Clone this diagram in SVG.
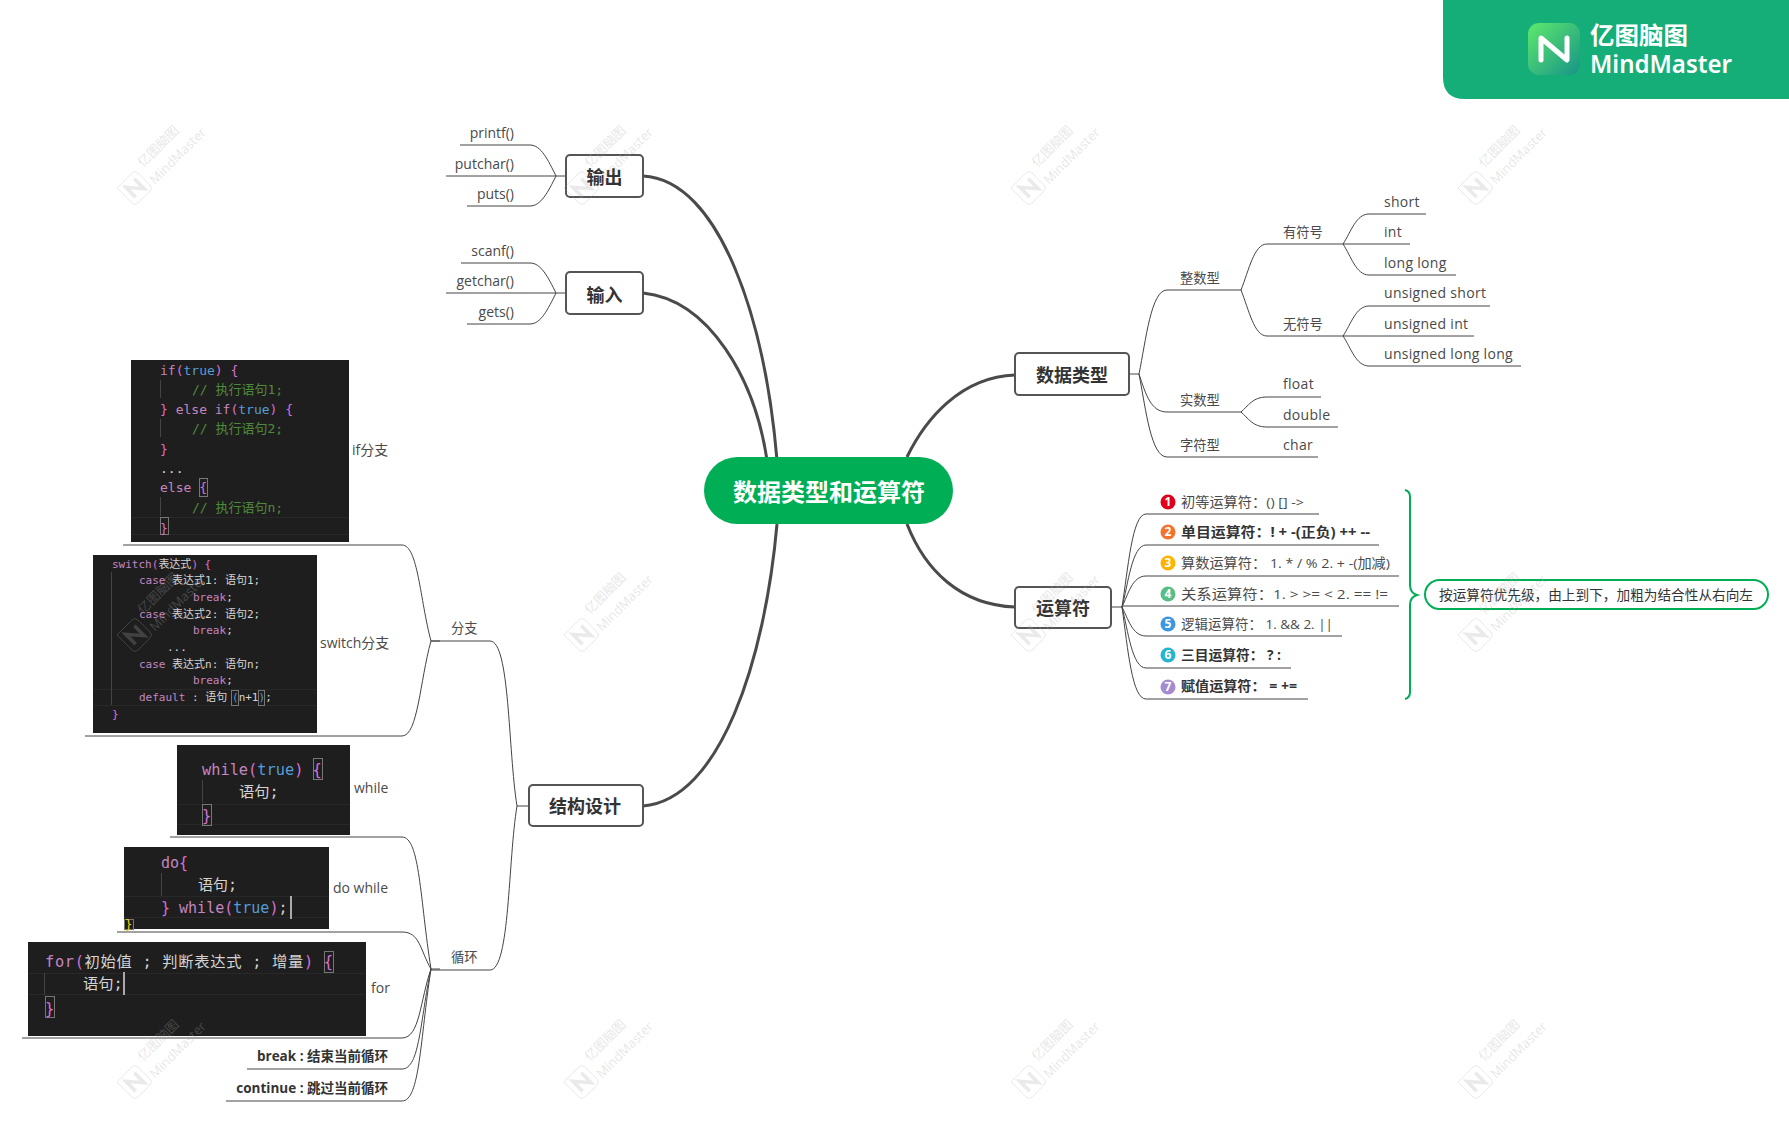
<svg xmlns="http://www.w3.org/2000/svg" width="1789" height="1121" viewBox="0 0 1789 1121">
<style>
text{font-family:"Open Sans","Noto Sans CJK SC",sans-serif;fill:#4a4a4a;font-size:14px}
.end{text-anchor:end}
.mid{text-anchor:middle}
.b{font-weight:700;fill:#333}
.zh{font-size:13.3px}
.ls{letter-spacing:.3px}
.node rect{fill:#fff;stroke:#555;stroke-width:2}
.node text{font-size:18px;font-weight:700;fill:#333;text-anchor:middle;font-family:"Noto Sans CJK SC",sans-serif}
.main path{fill:none;stroke:#4a4a4a;stroke-width:3}
.sub path{fill:none;stroke:#444;stroke-width:1}
.code rect.bg{fill:#1e1e1e}
.code rect.ln{fill:#282828}
.code rect.g{fill:#444}
.code rect.bx{fill:none;stroke:#777;stroke-width:1}
.code text{font-family:"DejaVu Sans Mono","Noto Sans CJK SC",monospace;fill:#d4d4d4;white-space:pre}
.k{fill:#c586c0}.t{fill:#569cd6}.p{fill:#da70d6}.c{fill:#4f8a3c}
.num{fill:#fff;font-size:12px;font-weight:700;text-anchor:middle}
.wm text{fill:#aaa;font-size:13px;fill-opacity:.3}
.wmi path{fill:none;stroke:#aaa;stroke-opacity:.25}
</style>
<defs>
<linearGradient id="lg" x1="0" y1="0" x2="1" y2="1"><stop offset="0" stop-color="#5ee86c"/><stop offset="1" stop-color="#179488"/></linearGradient>
<g id="wmicon" class="wmi">
<path stroke-width="1" d="M-18 0L-3 -15Q0 -18 3 -15L15 -3Q18 0 15 3L3 15Q0 18 -3 15L-15 3Q-18 0 -18 0Z"/>
<path stroke-width="3.500" transform="rotate(-45)" d="M-6 7V-7L6 7V-7"/>
</g>
</defs>

<g id="banner">
<path d="M1443 0H1789V99H1465Q1443 99 1443 77Z" fill="#16ae78"/>
<rect x="1528" y="23" width="52" height="52" rx="11" fill="url(#lg)"/>
<path d="M1541 60V38L1567 60V38" fill="none" stroke="#fff" stroke-width="5" stroke-linejoin="round" stroke-linecap="round"/>
<text x="1590" y="44" textLength="98" lengthAdjust="spacingAndGlyphs" style="fill:#fff;font-size:24px;font-weight:700;font-family:'Noto Sans CJK SC',sans-serif">亿图脑图</text>
<text x="1590" y="73" textLength="142" lengthAdjust="spacingAndGlyphs" style="fill:#fff;font-size:25px;font-weight:600;font-family:'Noto Sans',sans-serif">MindMaster</text>
</g>

<g id="connectors">
<g class="main">
<path d="M643 176C720 180 765 320 777 460"/>
<path d="M643 293C710 300 755 380 767 460"/>
<path d="M643 806C720 800 765 660 777 524"/>
<path d="M1015 375C960 377 925 420 907 457"/>
<path d="M1015 607C960 605 925 570 907 524"/>
</g>
<g class="sub">
<path d="M566 176H556"/><path d="M556 176C548 160 541 145 530 145H460"/><path d="M556 176H446"/><path d="M556 176C548 192 541 206 530 206H467"/>
<path d="M566 293H556"/><path d="M556 293C548 277 541 263 530 263H461"/><path d="M556 293H446"/><path d="M556 293C548 309 541 324 530 324H467"/>
<path d="M1129 374H1139"/>
<path d="M1139 374C1146 340 1151 290 1167 290H1241"/>
<path d="M1139 374C1146 395 1151 412 1167 412H1241"/>
<path d="M1139 374C1146 410 1151 457 1167 457H1318"/>
<path d="M1241 290C1249 270 1254 244 1267 244H1343"/>
<path d="M1241 290C1249 310 1254 336 1267 336H1343"/>
<path d="M1343 244C1351 232 1356 214 1369 214H1426"/><path d="M1343 244H1410"/><path d="M1343 244C1351 256 1356 275 1369 275H1456"/>
<path d="M1343 336C1351 324 1356 306 1369 306H1490"/><path d="M1343 336H1474"/><path d="M1343 336C1351 348 1356 366 1369 366H1521"/>
<path d="M1241 412C1248 406 1253 397 1266 397H1321"/><path d="M1241 412C1248 418 1253 427 1266 427H1338"/>
<path d="M1111 607H1122"/>
<path d="M1122 607C1128 570 1132 514 1146 514H1319"/>
<path d="M1122 607C1128 585 1132 545 1146 545H1379"/>
<path d="M1122 607C1128 595 1132 576 1146 576H1399"/>
<path d="M1122 606H1399"/>
<path d="M1122 607C1128 618 1132 636 1146 636H1342"/>
<path d="M1122 607C1128 630 1132 668 1146 668H1291"/>
<path d="M1122 607C1128 650 1132 699 1146 699H1308"/>
<path d="M529 806H517"/>
<path d="M517 806C508 750 510 641 490 641H431"/>
<path d="M517 806C508 860 510 970 490 970H431"/>
<path d="M440 641H431"/><path d="M440 969H431"/>
<path d="M431 641C420 600 418 545 402 545H123"/>
<path d="M431 641C420 680 418 736 402 736H85"/>
<path d="M431 969C420 900 420 837 402 837H170"/>
<path d="M431 969C420 950 420 932 402 932H117"/>
<path d="M431 969C420 1000 420 1038 402 1038H22"/>
<path d="M431 969C420 1020 420 1069 402 1069H247"/>
<path d="M431 969C420 1040 420 1101 402 1101H226"/>
</g>
<path d="M1405 490Q1410 491 1410 497V585Q1410 593 1417 595Q1410 597 1410 605V692Q1410 698 1405 699" fill="none" stroke="#00ae55" stroke-width="2"/>
</g>

<g id="root"><rect x="704" y="457" width="249" height="67" rx="33.5" fill="#00ae55"/><text x="829" y="501" class="mid" style="font-size:24px;font-weight:700;fill:#fff;font-family:'Noto Sans CJK SC',sans-serif">数据类型和运算符</text></g>
<g id="n-output" class="node"><rect x="566" y="155" width="77" height="42" rx="4"/><text x="604.5" y="184">输出</text></g>
<g id="n-input" class="node"><rect x="566" y="272" width="77" height="42" rx="4"/><text x="604.5" y="302">输入</text></g>
<g id="n-types" class="node"><rect x="1015" y="353" width="114" height="42" rx="4"/><text x="1072" y="382">数据类型</text></g>
<g id="n-ops" class="node"><rect x="1015" y="587" width="96" height="41" rx="4"/><text x="1063" y="615">运算符</text></g>
<g id="n-struct" class="node"><rect x="529" y="785" width="114" height="41" rx="4"/><text x="585" y="813">结构设计</text></g>

<g id="output-items">
<text x="514" y="138" class="end">printf()</text><text x="514" y="169" class="end">putchar()</text><text x="514" y="199" class="end">puts()</text>
</g>
<g id="input-items">
<text x="514" y="256" class="end">scanf()</text><text x="514" y="286" class="end">getchar()</text><text x="514" y="317" class="end">gets()</text>
</g>
<g id="type-items">
<text x="1180" y="283" class="zh">整数型</text><text x="1180" y="405" class="zh">实数型</text><text x="1180" y="450" class="zh">字符型</text>
<text x="1283" y="237" class="zh">有符号</text><text x="1283" y="329" class="zh">无符号</text>
<text x="1384" y="207" class="ls">short</text><text x="1384" y="237" class="ls">int</text><text x="1384" y="268" class="ls">long long</text>
<text x="1384" y="298" class="ls">unsigned short</text><text x="1384" y="329" class="ls">unsigned int</text><text x="1384" y="359" class="ls">unsigned long long</text>
<text x="1283" y="389" class="ls">float</text><text x="1283" y="420" class="ls">double</text><text x="1283" y="450" class="ls">char</text>
</g>
<g id="op-items">
<circle cx="1168" cy="502" r="7.500" fill="#e0001b"/><text x="1168" y="506" class="num">1</text>
<text x="1181" y="507" textLength="123" lengthAdjust="spacingAndGlyphs" class="zh">初等运算符&#xFF1A;() [] -&gt;</text>
<circle cx="1168" cy="532" r="7.500" fill="#f4722b"/><text x="1168" y="536" class="num">2</text>
<text x="1181" y="537" textLength="189" lengthAdjust="spacingAndGlyphs" class="zh b">单目运算符&#xFF1A;! + -(正负) ++ --</text>
<circle cx="1168" cy="563" r="7.500" fill="#ffb300"/><text x="1168" y="567" class="num">3</text>
<text x="1181" y="568" textLength="209" lengthAdjust="spacingAndGlyphs" class="zh">算数运算符&#xFF1A; 1. * / % 2. + -(加减)</text>
<circle cx="1168" cy="594" r="7.500" fill="#56bd84"/><text x="1168" y="598" class="num">4</text>
<text x="1181" y="599" textLength="207" lengthAdjust="spacingAndGlyphs" class="zh">关系运算符&#xFF1A;1. &gt; &gt;= &lt; 2. == !=</text>
<circle cx="1168" cy="624" r="7.500" fill="#3b97e0"/><text x="1168" y="628" class="num">5</text>
<text x="1181" y="629" textLength="152" lengthAdjust="spacingAndGlyphs" class="zh">逻辑运算符&#xFF1A; 1. &amp;&amp; 2. ||</text>
<circle cx="1168" cy="655" r="7.500" fill="#26b5cf"/><text x="1168" y="659" class="num">6</text>
<text x="1181" y="660" textLength="100" lengthAdjust="spacingAndGlyphs" class="zh b">三目运算符&#xFF1A; ? :</text>
<circle cx="1168" cy="687" r="7.500" fill="#a78bd1"/><text x="1168" y="691" class="num">7</text>
<text x="1181" y="691" textLength="116" lengthAdjust="spacingAndGlyphs" class="zh b">赋值运算符&#xFF1A; = +=</text>
</g>
<g id="note"><rect x="1425" y="580" width="343" height="29" rx="14.5" fill="#fff" stroke="#00ae55" stroke-width="2"/>
<text x="1439" y="600" textLength="314" lengthAdjust="spacingAndGlyphs" class="zh" style="fill:#333">按运算符优先级&#xFF0C;由上到下&#xFF0C;加粗为结合性从右向左</text></g>

<g id="struct-items">
<text x="451" y="633" class="zh">分支</text><text x="451" y="962" class="zh">循环</text>
<text x="352" y="455">if分支</text><text x="320" y="648">switch分支</text>
<text x="354" y="793">while</text><text x="333" y="893">do while</text><text x="371" y="993">for</text>
<text x="388" y="1061" class="end b" style="font-size:13.5px">break : 结束当前循环</text>
<text x="388" y="1093" class="end b" style="font-size:13.5px">continue : 跳过当前循环</text>
</g>

<g id="code-if" class="code">
<rect class="bg" x="131" y="360" width="218" height="182"/>
<rect class="ln" x="131" y="517" width="218" height="1"/><rect class="ln" x="131" y="534" width="218" height="1"/>
<rect class="g" x="160" y="380" width="1" height="18"/><rect class="g" x="160" y="419" width="1" height="18"/><rect class="g" x="160" y="497" width="1" height="19"/>
<rect class="bx" x="199.500" y="478.500" width="8" height="18"/><rect class="bx" x="160.500" y="517.500" width="8" height="17"/>
<text x="160" y="375" style="font-size:13px"><tspan class="k">if</tspan><tspan class="p">(</tspan><tspan class="t">true</tspan><tspan class="p">) {</tspan></text>
<text x="192" y="394" style="font-size:13px;fill:#4f8a3c">// 执行语句1;</text>
<text x="160" y="414" style="font-size:13px"><tspan class="p">} </tspan><tspan class="k">else if</tspan><tspan class="p">(</tspan><tspan class="t">true</tspan><tspan class="p">) {</tspan></text>
<text x="192" y="433" style="font-size:13px;fill:#4f8a3c">// 执行语句2;</text>
<text x="160" y="454" style="font-size:13px;fill:#da70d6">}</text>
<text x="160" y="473" style="font-size:13px">...</text>
<text x="160" y="492" style="font-size:13px"><tspan class="k">else</tspan> <tspan class="p">{</tspan></text>
<text x="192" y="512" style="font-size:13px;fill:#4f8a3c">// 执行语句n;</text>
<text x="160" y="533" style="font-size:13px;fill:#da70d6">}</text>
</g>

<g id="code-switch" class="code">
<rect class="bg" x="93" y="555" width="224" height="178"/>
<rect class="ln" x="93" y="689" width="224" height="1"/><rect class="ln" x="93" y="705" width="224" height="1"/>
<rect class="g" x="111" y="572" width="1" height="133"/>
<rect class="bx" x="231.500" y="690.500" width="7" height="15"/><rect class="bx" x="258.500" y="690.500" width="6" height="15"/>
<text x="112" y="568" style="font-size:11px"><tspan class="k">switch</tspan><tspan class="p">(</tspan>表达式<tspan class="p">) {</tspan></text>
<text x="139" y="584" style="font-size:11px"><tspan class="k">case</tspan> 表达式1: 语句1;</text>
<text x="193" y="601" style="font-size:11px;fill:#c586c0">break<tspan fill="#d4d4d4">;</tspan></text>
<text x="139" y="618" style="font-size:11px"><tspan class="k">case</tspan> 表达式2: 语句2;</text>
<text x="193" y="634" style="font-size:11px;fill:#c586c0">break<tspan fill="#d4d4d4">;</tspan></text>
<text x="167" y="651" style="font-size:11px">...</text>
<text x="139" y="668" style="font-size:11px"><tspan class="k">case</tspan> 表达式n: 语句n;</text>
<text x="193" y="684" style="font-size:11px;fill:#c586c0">break<tspan fill="#d4d4d4">;</tspan></text>
<text x="139" y="701" style="font-size:11px"><tspan class="k">default</tspan> : 语句<tspan class="t" x="232">(</tspan>n+1<tspan class="t">)</tspan>;</text>
<text x="112" y="718" style="font-size:11px;fill:#da70d6">}</text>
</g>

<g id="code-while" class="code">
<rect class="bg" x="177" y="745" width="173" height="90"/>
<rect class="ln" x="177" y="804" width="173" height="1"/><rect class="ln" x="177" y="824" width="173" height="1"/>
<rect class="g" x="202" y="780" width="1" height="23"/>
<rect class="bx" x="313.500" y="758.500" width="9" height="21"/><rect class="bx" x="202.500" y="804.500" width="9" height="21"/>
<text x="202" y="775" style="font-size:15.3px"><tspan class="k">while</tspan><tspan class="p">(</tspan><tspan class="t">true</tspan><tspan class="p">) {</tspan></text>
<text x="239" y="797" style="font-size:15.3px">语句;</text>
<text x="202" y="821" style="font-size:15.3px;fill:#da70d6">}</text>
</g>

<g id="code-dowhile" class="code">
<rect class="bg" x="124" y="847" width="205" height="82"/>
<rect class="ln" x="124" y="896" width="205" height="1"/><rect class="ln" x="124" y="917" width="205" height="1"/>
<rect class="g" x="161" y="873" width="1" height="23"/>
<rect x="290" y="896" width="2" height="23" fill="#aaa"/>
<rect class="bx" x="124.500" y="919.500" width="9" height="10"/>
<text x="161" y="868" style="font-size:15px"><tspan class="k">do</tspan><tspan class="p">{</tspan></text>
<text x="198" y="890" style="font-size:15px">语句;</text>
<text x="161" y="913" style="font-size:15px"><tspan class="p">} </tspan><tspan class="k">while</tspan><tspan class="p">(</tspan><tspan class="t">true</tspan><tspan class="p">)</tspan>;</text>
<text x="125" y="929" style="font-size:12px;fill:#ffd700">}</text>
</g>

<g id="code-for" class="code">
<rect class="bg" x="28" y="942" width="338" height="94"/>
<rect class="ln" x="28" y="973" width="338" height="1"/><rect class="ln" x="28" y="994" width="338" height="1"/>
<rect class="g" x="44" y="973" width="1" height="22"/>
<rect x="123" y="972" width="2" height="23" fill="#aaa"/>
<rect class="bx" x="324.500" y="951.500" width="9" height="21"/><rect class="bx" x="45.500" y="996.500" width="9" height="21"/>
<text x="45" y="967" textLength="288" style="font-size:15.300px"><tspan class="k">for</tspan><tspan class="p">(</tspan>初始值 ; 判断表达式 ; 增量<tspan class="p">) {</tspan></text>
<text x="83" y="989" style="font-size:15.300px">语句;</text>
<text x="45" y="1014" style="font-size:15.300px;fill:#da70d6">}</text>
</g>

<g id="watermarks" class="wm">
<g transform="translate(135,188)"><use href="#wmicon"/><text transform="translate(8,-20) rotate(-45)">亿图脑图</text><text transform="translate(20,-3) rotate(-45)">MindMaster</text></g>
<g transform="translate(582,188)"><use href="#wmicon"/><text transform="translate(8,-20) rotate(-45)">亿图脑图</text><text transform="translate(20,-3) rotate(-45)">MindMaster</text></g>
<g transform="translate(1029,188)"><use href="#wmicon"/><text transform="translate(8,-20) rotate(-45)">亿图脑图</text><text transform="translate(20,-3) rotate(-45)">MindMaster</text></g>
<g transform="translate(1476,188)"><use href="#wmicon"/><text transform="translate(8,-20) rotate(-45)">亿图脑图</text><text transform="translate(20,-3) rotate(-45)">MindMaster</text></g>
<g transform="translate(135,635)"><use href="#wmicon"/><text transform="translate(8,-20) rotate(-45)">亿图脑图</text><text transform="translate(20,-3) rotate(-45)">MindMaster</text></g>
<g transform="translate(582,635)"><use href="#wmicon"/><text transform="translate(8,-20) rotate(-45)">亿图脑图</text><text transform="translate(20,-3) rotate(-45)">MindMaster</text></g>
<g transform="translate(1029,635)"><use href="#wmicon"/><text transform="translate(8,-20) rotate(-45)">亿图脑图</text><text transform="translate(20,-3) rotate(-45)">MindMaster</text></g>
<g transform="translate(1476,635)"><use href="#wmicon"/><text transform="translate(8,-20) rotate(-45)">亿图脑图</text><text transform="translate(20,-3) rotate(-45)">MindMaster</text></g>
<g transform="translate(135,1082)"><use href="#wmicon"/><text transform="translate(8,-20) rotate(-45)">亿图脑图</text><text transform="translate(20,-3) rotate(-45)">MindMaster</text></g>
<g transform="translate(582,1082)"><use href="#wmicon"/><text transform="translate(8,-20) rotate(-45)">亿图脑图</text><text transform="translate(20,-3) rotate(-45)">MindMaster</text></g>
<g transform="translate(1029,1082)"><use href="#wmicon"/><text transform="translate(8,-20) rotate(-45)">亿图脑图</text><text transform="translate(20,-3) rotate(-45)">MindMaster</text></g>
<g transform="translate(1476,1082)"><use href="#wmicon"/><text transform="translate(8,-20) rotate(-45)">亿图脑图</text><text transform="translate(20,-3) rotate(-45)">MindMaster</text></g>
</g>
</svg>
